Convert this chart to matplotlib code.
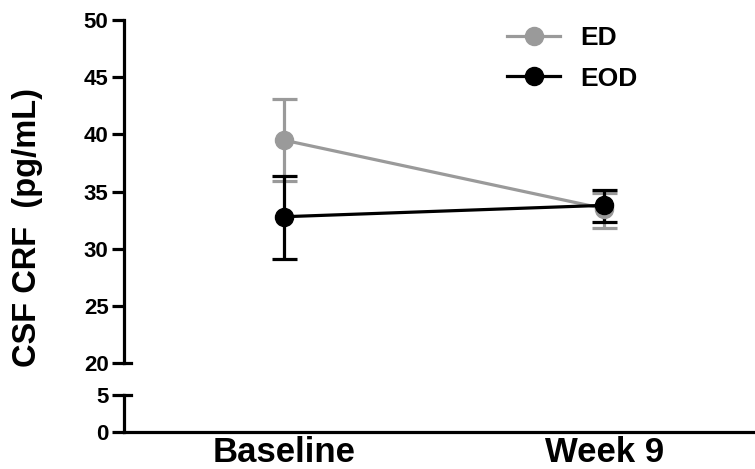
import matplotlib.pyplot as plt
import numpy as np
from matplotlib.lines import Line2D

plt.rcParams['font.family'] = ['Liberation Sans', 'DejaVu Sans']
plt.rcParams['font.weight'] = 'bold'

timepoints = ['Baseline', 'Week 9']
ed_mean = [39.5, 33.5]
ed_err_low = [3.6, 1.7]
ed_err_high = [3.6, 1.4]
eod_mean = [32.8, 33.8]
eod_err_low = [3.7, 1.5]
eod_err_high = [3.6, 1.3]
upper_ticks = [20, 25, 30, 35, 40, 45, 50]
lower_ticks = [0, 5]

gray = '#9a9a9a'
lw = 2.3
x = np.arange(len(timepoints))

fig = plt.figure(figsize=(7.55, 4.69), dpi=100)
ax_top = fig.add_axes([0.164, 0.226, 0.836, 0.731])
ax_bot = fig.add_axes([0.164, 0.079, 0.836, 0.079])

for ax in (ax_top, ax_bot):
    ax.set_xlim(-0.5, 1.47)
    ax.spines['top'].set_visible(False)
    ax.spines['right'].set_visible(False)
    ax.spines['left'].set_linewidth(lw)
    ax.spines['bottom'].set_linewidth(lw)
    ax.tick_params(axis='y', width=lw, length=9, labelsize=16, pad=2)
    ax.patch.set_alpha(0)

ax_top.spines['bottom'].set_visible(False)
ax_top.tick_params(axis='x', bottom=False, labelbottom=False)

series = [(ed_mean, ed_err_low, ed_err_high, gray, 'ED'),
          (eod_mean, eod_err_low, eod_err_high, 'black', 'EOD')]
handles = []
for mean, lo, hi, color, label in series:
    ax_top.errorbar(x, mean, yerr=[lo, hi], color=color, marker='o', markersize=13,
                    linewidth=lw, elinewidth=lw, capsize=9, capthick=lw)
    handles.append(Line2D([], [], color=color, marker='o', markersize=13, linewidth=lw, label=label))

ax_top.set_ylim(20, 50)
ax_top.set_yticks(upper_ticks)

ax_bot.set_ylim(0, 5)
ax_bot.set_yticks(lower_ticks)
ax_bot.set_xticks(x)
ax_bot.set_xticklabels(timepoints, fontsize=25)
ax_bot.tick_params(axis='x', length=0, pad=3)

# break caps at the ends of the two axis segments
ax_top.plot([0, 0.012], [0, 0], transform=ax_top.transAxes, color='black', lw=lw, clip_on=False)
ax_bot.plot([0, 0.012], [1, 1], transform=ax_bot.transAxes, color='black', lw=lw, clip_on=False)

fig.legend(handles=handles, loc='upper left', bbox_to_anchor=(0.672, 0.944), frameon=False,
           fontsize=19, handlelength=2.0, labelspacing=0.62, handletextpad=0.75,
           borderpad=0, borderaxespad=0)

fig.text(0.037, 0.515, 'CSF CRF  (pg/mL)', rotation=90, ha='center', va='center', fontsize=23.5)

fig.savefig('out.png', dpi=100)
